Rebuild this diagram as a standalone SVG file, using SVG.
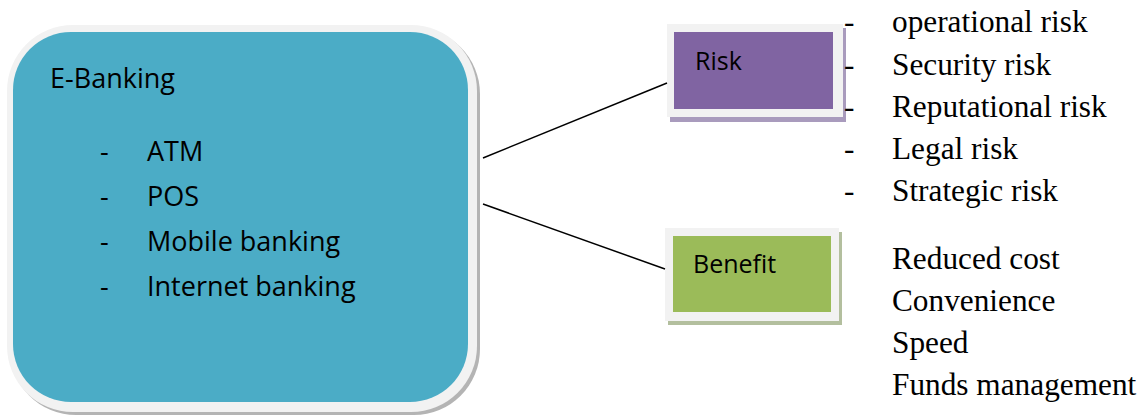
<svg xmlns="http://www.w3.org/2000/svg" width="1145" height="415" viewBox="0 0 1145 415">
<style>
.cal{font-family:"Open Sans","Noto Sans",sans-serif;fill:#000}
.tms{font-family:"Liberation Serif","Times New Roman",serif;font-size:31.3px;fill:#000}
.frame{fill:#f2f2f2}
.conn{stroke:#000;stroke-width:1.5;fill:none}
</style>
<rect width="1145" height="415" fill="#fff"/>
<g id="ebanking">
<rect x="10" y="28" width="470" height="387" rx="66" fill="#b4b4b4"/>
<rect x="7" y="25" width="470" height="387" rx="66" class="frame"/>
<rect x="13" y="32" width="455" height="370" rx="58" fill="#4bacc6"/>
<text class="cal" x="50" y="88" font-size="27">E-Banking</text>
<g class="cal" font-size="27">
<text x="100" y="161">-</text><text x="147" y="161">ATM</text>
<text x="100" y="206">-</text><text x="147" y="206">POS</text>
<text x="100" y="251">-</text><text x="147" y="251">Mobile banking</text>
<text x="100" y="296">-</text><text x="147" y="296">Internet banking</text>
</g>
</g>
<g id="risk">
<rect x="670" y="28" width="176" height="94" fill="#a99bbd"/>
<rect x="667" y="24" width="176" height="93" class="frame"/>
<rect x="674" y="32" width="159" height="77" fill="#8064a2"/>
<text class="cal" x="695" y="70" font-size="25">Risk</text>
</g>
<g id="benefit">
<rect x="668" y="232" width="174" height="93" fill="#b3bf9e"/>
<rect x="665" y="228" width="174" height="93" class="frame"/>
<rect x="673" y="236" width="158" height="76" fill="#9bbb59"/>
<text class="cal" x="693" y="273" font-size="25">Benefit</text>
</g>
<g id="risk-list" class="tms">
<text x="844" y="32">-</text><text x="892" y="32">operational risk</text>
<text x="844" y="75">-</text><text x="892" y="75">Security risk</text>
<text x="844" y="117">-</text><text x="892" y="117">Reputational risk</text>
<text x="844" y="159">-</text><text x="892" y="159">Legal risk</text>
<text x="844" y="201">-</text><text x="892" y="201">Strategic risk</text>
</g>
<g id="benefit-list" class="tms">
<text x="892" y="269">Reduced cost</text>
<text x="892" y="311">Convenience</text>
<text x="892" y="353">Speed</text>
<text x="892" y="395">Funds management</text>
</g>
<g id="connectors">
<line class="conn" x1="483" y1="158" x2="667" y2="83"/>
<line class="conn" x1="483" y1="204" x2="665" y2="269"/>
</g>
</svg>
